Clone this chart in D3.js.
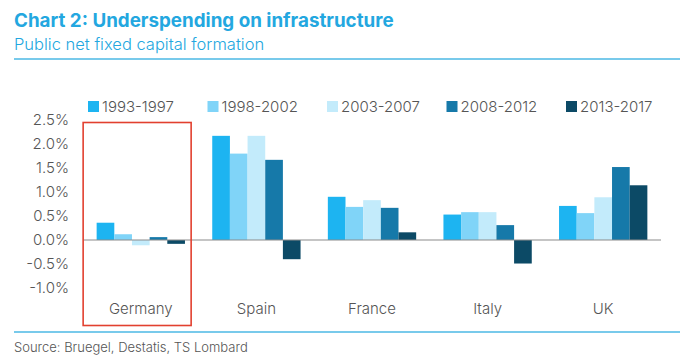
<!DOCTYPE html>
<html><head><meta charset="utf-8">
<script src="https://cdn.jsdelivr.net/npm/d3@7"></script>
<style>body{margin:0;background:#fff;} svg{display:block;font-family:Inter,"Noto Sans",sans-serif;}</style>
</head><body>
<svg id="c" width="680" height="358"></svg>
<script>
const categories = ["Germany","Spain","France","Italy","UK"];
const seriesNames = ["1993-1997","1998-2002","2003-2007","2008-2012","2013-2017"];
const s1993 = [0.36, 2.17, 0.90, 0.53, 0.71];
const s1998 = [0.12, 1.80, 0.69, 0.58, 0.56];
const s2003 = [-0.11, 2.17, 0.83, 0.58, 0.89];
const s2008 = [0.06, 1.67, 0.67, 0.31, 1.52];
const s2013 = [-0.08, -0.40, 0.16, -0.49, 1.14];
const yTicks = [2.5, 2.0, 1.5, 1.0, 0.5, 0.0, -0.5, -1.0];
const colors = ["#1db4f1", "#80d4f8", "#c3ebfb", "#1679a9", "#0c4a66"];
const allSeries = [s1993, s1998, s2003, s2008, s2013];

const svg = d3.select("#c");
const left = 83, right = 661;
const y = d3.scaleLinear().domain([-1.0, 2.5]).range([288, 120]);
const x0 = d3.scaleBand().domain(categories).range([left, right]).paddingInner(0.236).paddingOuter(0.118);
const x1 = d3.scaleBand().domain(seriesNames).range([0, x0.bandwidth()]);

// title
svg.append("text").attr("x", 14).attr("y", 27).attr("fill", "#23a7e0")
  .attr("font-size", 18.8).attr("font-weight", 700).text("Chart 2: Underspending on infrastructure");
svg.append("text").attr("x", 14).attr("y", 50).attr("fill", "#23a7e0")
  .attr("font-size", 16.5).attr("font-weight", 300).text("Public net fixed capital formation");
svg.append("line").attr("x1", 14).attr("x2", 680).attr("y1", 59).attr("y2", 59)
  .attr("stroke", "#4bb9e4").attr("stroke-width", 1.5);

// y axis labels
const yAxis = d3.axisLeft(y).tickValues(yTicks).tickSize(0).tickPadding(0)
  .tickFormat(d => d3.format(".1f")(d).replace("−","-") + "%");
const ga = svg.append("g").attr("transform", "translate(69,0)").call(yAxis);
ga.select(".domain").remove();
ga.selectAll("text").attr("font-size", 15).attr("fill", "#555").attr("font-weight", 300)
  .attr("font-family", "Inter,'Noto Sans',sans-serif");

// bars
const groups = svg.append("g").selectAll("g").data(categories).join("g")
  .attr("transform", d => `translate(${x0(d)},0)`);
groups.selectAll("rect").data((d, i) => seriesNames.map((s, j) => ({s, v: allSeries[j][i], j})))
  .join("rect")
  .attr("x", d => x1(d.s)).attr("width", x1.bandwidth())
  .attr("y", d => y(Math.max(0, d.v))).attr("height", d => Math.abs(y(d.v) - y(0)))
  .attr("fill", d => colors[d.j]);

// zero line
svg.append("line").attr("x1", left).attr("x2", right).attr("y1", y(0)).attr("y2", y(0))
  .attr("stroke", "#8c8c8c").attr("stroke-width", 1.2);

// category labels
svg.append("g").selectAll("text").data(categories).join("text")
  .attr("x", d => x0(d) + x0.bandwidth() / 2).attr("y", 314).attr("text-anchor", "middle")
  .attr("font-size", 15).attr("font-weight", 300).attr("fill", "#555").text(d => d);

// legend
const lg = svg.append("g").selectAll("g").data(seriesNames).join("g")
  .attr("transform", (d, i) => `translate(${88 + i * 119.5},101)`);
lg.append("rect").attr("width", 11).attr("height", 11).attr("fill", (d, i) => colors[i]);
lg.append("text").attr("x", 14).attr("y", 11).attr("font-size", 15).attr("font-weight", 300)
  .attr("fill", "#555").text(d => d);

// red highlight box
svg.append("rect").attr("x", x0("Germany") - 13.5).attr("y", 122.5).attr("width", 108).attr("height", 203)
  .attr("fill", "none").attr("stroke", "#e2402f").attr("stroke-width", 1.6);

// bottom rule + source
svg.append("line").attr("x1", 14).attr("x2", 680).attr("y1", 332).attr("y2", 332)
  .attr("stroke", "#4bb9e4").attr("stroke-width", 1.5);
svg.append("text").attr("x", 14).attr("y", 352).attr("font-size", 13).attr("font-weight", 300)
  .attr("fill", "#555").text("Source: Bruegel, Destatis, TS Lombard");
</script>
</body></html>
